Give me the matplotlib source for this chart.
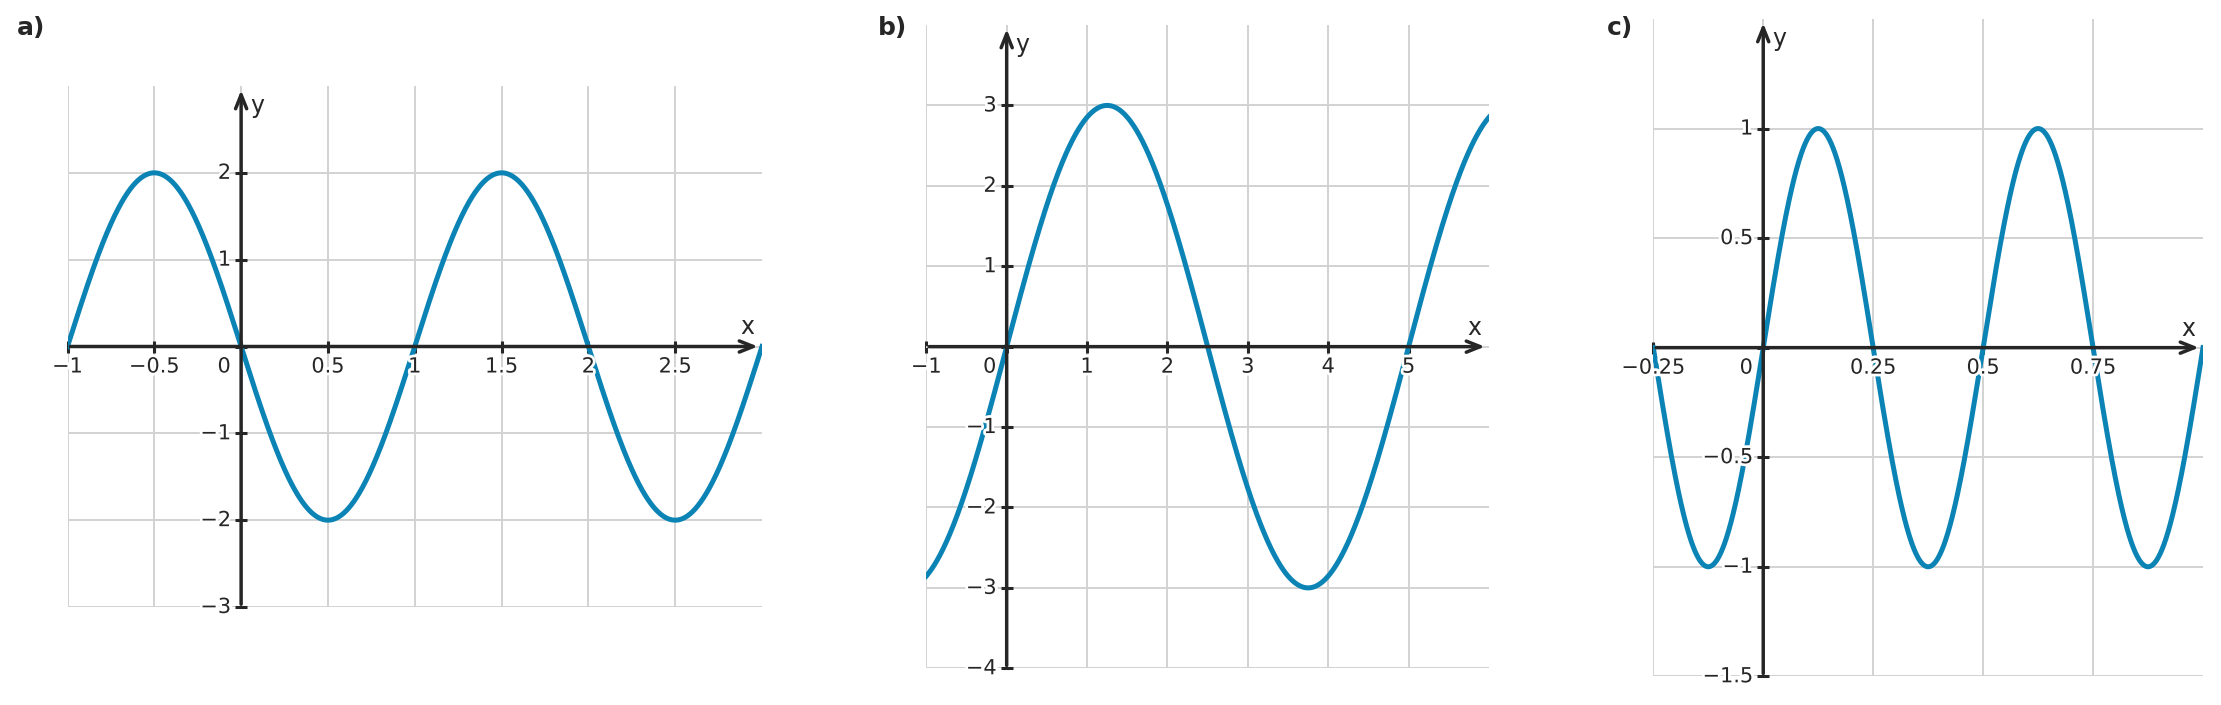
import numpy as np
import matplotlib
matplotlib.use("Agg")
import matplotlib.pyplot as plt
import matplotlib.patheffects as pe

# data: y = amp * sin(2*pi*x / period)
panel_names = ["a)", "b)", "c)"]
amps = [-2, 3, 1]
periods = [2, 5, 0.5]
x_lims = [(-1, 3), (-1, 6), (-0.25, 1)]
y_lims = [(-3, 3), (-4, 4), (-1.5, 1.5)]
x_ticks = [[-1, -0.5, 0, 0.5, 1, 1.5, 2, 2.5],
           [-1, 0, 1, 2, 3, 4, 5],
           [-0.25, 0, 0.25, 0.5, 0.75]]
x_labels = [["\u22121", "\u22120.5", "0", "0.5", "1", "1.5", "2", "2.5"],
            ["\u22121", "0", "1", "2", "3", "4", "5"],
            ["\u22120.25", "0", "0.25", "0.5", "0.75"]]
y_ticks = [[-3, -2, -1, 0, 1, 2],
           [-4, -3, -2, -1, 0, 1, 2, 3],
           [-1.5, -1, -0.5, 0, 0.5, 1]]
y_labels = [["\u22123", "\u22122", "\u22121", "0", "1", "2"],
            ["\u22124", "\u22123", "\u22122", "\u22121", "0", "1", "2", "3"],
            ["\u22121.5", "\u22121", "\u22120.5", "0", "0.5", "1"]]

# axes boxes in pixels: left, right, top, bottom
boxes = [(67.5, 762, 86, 607), (926.3, 1489, 25, 668.3), (1653.3, 2203, 19, 676.3)]
label_x = [17, 878, 1607]

W, H = 2221, 705
curve_col = "#0b84b5"
dark = "#262626"
grid_col = "#d2d2d2"
halo = [pe.withStroke(linewidth=4, foreground="white")]

fig = plt.figure(figsize=(W / 100, H / 100), dpi=100)

for i in range(3):
    l, r, t, b = boxes[i]
    ax = fig.add_axes([l / W, 1 - b / H, (r - l) / W, (b - t) / H])
    x0, x1 = x_lims[i]
    y0, y1 = y_lims[i]
    ax.set_xlim(x0, x1)
    ax.set_ylim(y0, y1)

    xs = np.linspace(x0, x1, 1200)
    ax.plot(xs, amps[i] * np.sin(2 * np.pi * xs / periods[i]), color=curve_col, lw=3.6, zorder=3)

    for s in ax.spines.values():
        s.set_visible(False)
    ax.spines["left"].set_position(("data", 0))
    ax.spines["bottom"].set_position(("data", 0))
    ax.set_xticks(x_ticks[i])
    ax.set_yticks(y_ticks[i])
    ax.tick_params(direction="inout", length=8, width=2.2, color=dark,
                   labelbottom=False, labelleft=False)
    for tl in ax.xaxis.get_ticklines() + ax.yaxis.get_ticklines():
        tl.set_zorder(5)
    ax.grid(True, color=grid_col, lw=1.4, zorder=0)
    ax.set_axisbelow(True)

    # axis arrows
    arr = dict(arrowstyle="->,head_length=0.5,head_width=0.2", lw=2.5, color=dark,
               mutation_scale=20, shrinkA=2, shrinkB=3)
    ax.annotate("", xy=(x1, 0), xytext=(x0, 0), arrowprops=arr, zorder=4, annotation_clip=False)
    ax.annotate("", xy=(0, y1), xytext=(0, y0), arrowprops=arr, zorder=4, annotation_clip=False)

    # tick labels
    for v, s in zip(x_ticks[i], x_labels[i]):
        dx = -17 if v == 0 else 0
        ax.annotate(s, xy=(v, 0), xytext=(dx, -10), textcoords="offset pixels",
                    ha="center", va="top", fontsize=15, color=dark,
                    path_effects=halo, zorder=6, annotation_clip=False)
    for v, s in zip(y_ticks[i], y_labels[i]):
        if v == 0:
            continue
        ax.annotate(s, xy=(0, v), xytext=(-10, 0), textcoords="offset pixels",
                    ha="right", va="center", fontsize=15, color=dark,
                    path_effects=halo, zorder=6, annotation_clip=False)

    ax.annotate("x", xy=(x1, 0), xytext=(-15, 19), textcoords="offset pixels",
                ha="center", va="center", fontsize=17, color=dark, annotation_clip=False)
    ax.annotate("y", xy=(0, y1), xytext=(16, -20), textcoords="offset pixels",
                ha="center", va="center", fontsize=17, color=dark, annotation_clip=False)

    fig.text(label_x[i] / W, 1 - 28 / H, panel_names[i], ha="left", va="center",
             fontsize=18, fontweight="bold", color=dark)

fig.savefig("out.png", dpi=100, facecolor="white")
